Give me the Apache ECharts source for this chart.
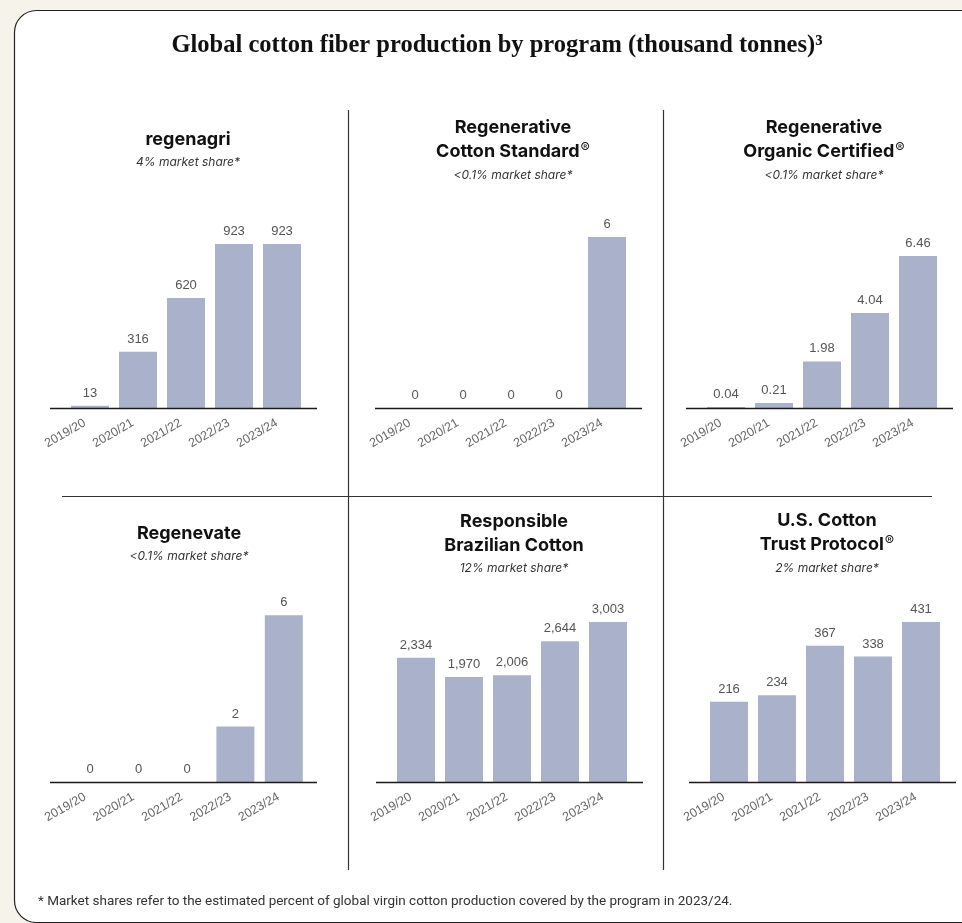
<!DOCTYPE html>
<html>
<head>
<meta charset="utf-8">
<script src="https://cdn.jsdelivr.net/npm/echarts@6/dist/echarts.min.js"></script>
<style>
html,body{margin:0;padding:0;background:#f5f3ea;}
#chart{width:962px;height:923px;}
</style>
</head>
<body>
<div id="chart"></div>
<script>
// ---- data ----
const categories = ['2019/20', '2020/21', '2021/22', '2022/23', '2023/24'];
const regenagri = [13, 316, 620, 923, 923];
const regenerativeCottonStandard = [0, 0, 0, 0, 6];
const regenerativeOrganicCertified = [0.04, 0.21, 1.98, 4.04, 6.46];
const regenevate = [0, 0, 0, 2, 6];
const responsibleBrazilianCotton = [2334, 1970, 2006, 2644, 3003];
const usCottonTrustProtocol = [216, 234, 367, 338, 431];
const panelNames = ['regenagri', 'Regenerative\nCotton Standard®', 'Regenerative\nOrganic Certified®', 'Regenevate', 'Responsible\nBrazilian Cotton', 'U.S. Cotton\nTrust Protocol®'];
const marketShares = ['4% market share*', '<0.1% market share*', '<0.1% market share*', '<0.1% market share*', '12% market share*', '2% market share*'];
const mainTitle = 'Global cotton fiber production by program (thousand tonnes)³';
const footnote = '* Market shares refer to the estimated percent of global virgin cotton production covered by the program in 2023/24.';

// ---- layout ----
const seriesData = [regenagri, regenerativeCottonStandard, regenerativeOrganicCertified, regenevate, responsibleBrazilianCotton, usCottonTrustProtocol];
const yMax = [1126, 7.02, 8.5, 7.2, 3754, 539];
const gridLeft = [66, 391, 702, 66, 392, 705];
const gridW = [240, 240, 240, 242, 240, 240];
const gridH = 200;
const baseY = [408, 408, 408, 782, 782, 782];
const titleTop = [128, 116, 116, 522, 510, 509];

const barColor = '#aab1cb';

const chart = echarts.init(document.getElementById('chart'), null, {renderer: 'canvas'});

function richName(name) {
  return name.split('\n').map(l => {
    if (l.indexOf('®') >= 0) {
      const parts = l.split('®');
      return '{b|' + parts[0] + '}{r|®}';
    }
    return '{b|' + l + '}';
  }).join('\n');
}

const grids = [], xAxes = [], yAxes = [], series = [], titles = [], graphics = [];

titles.push({
  text: mainTitle,
  left: 497,
  textAlign: 'center',
  top: 33,
  padding: 0,
  textStyle: {fontFamily: 'Liberation Serif', fontWeight: 'bold', fontSize: 24.5, color: '#111'}
});
titles.push({
  text: footnote,
  left: 38,
  top: 895,
  padding: 0,
  textStyle: {fontFamily: 'Roboto', fontWeight: 'normal', fontSize: 13.5, color: '#333'}
});

// card
graphics.push({
  type: 'rect', z: -10, silent: true,
  shape: {x: 14.5, y: 10.5, width: 1000, height: 912, r: 22},
  style: {fill: '#ffffff', stroke: '#222', lineWidth: 1.2}
});
// separators
graphics.push({type: 'line', silent: true, shape: {x1: 348.5, y1: 110, x2: 348.5, y2: 870}, style: {stroke: '#333', lineWidth: 1.2}});
graphics.push({type: 'line', silent: true, shape: {x1: 663.5, y1: 110, x2: 663.5, y2: 870}, style: {stroke: '#333', lineWidth: 1.2}});
graphics.push({type: 'line', silent: true, shape: {x1: 62, y1: 496.5, x2: 932, y2: 496.5}, style: {stroke: '#333', lineWidth: 1.2}});

for (let i = 0; i < 6; i++) {
  grids.push({left: gridLeft[i], top: baseY[i] - gridH, width: gridW[i], height: gridH, containLabel: false});
  xAxes.push({
    type: 'category', gridIndex: i, data: categories,
    axisLine: {show: false}, axisTick: {show: false},
    axisLabel: {rotate: 30, fontSize: 12.5, color: '#666', margin: 11, padding: [0, 6, 0, 0], fontFamily: 'Liberation Sans', interval: 0}
  });
  yAxes.push({type: 'value', gridIndex: i, min: 0, max: yMax[i], show: false, splitLine: {show: false}});
  series.push({
    type: 'bar', xAxisIndex: i, yAxisIndex: i, data: seriesData[i], barWidth: 38,
    itemStyle: {color: barColor},
    label: {
      show: true, position: 'top', distance: 6, fontSize: 13, color: '#555', fontFamily: 'Liberation Sans',
      formatter: p => (p.value >= 1000 ? p.value.toLocaleString('en-US') : String(p.value))
    },
    silent: true
  });
  titles.push({
    text: richName(panelNames[i]),
    subtext: marketShares[i],
    left: gridLeft[i] + gridW[i] / 2 + 2,
    textAlign: 'center',
    top: titleTop[i],
    itemGap: 9,
    padding: 0,
    textStyle: {
      rich: {
        b: {fontFamily: 'Inter', fontWeight: 'bold', fontSize: 18, color: '#111', lineHeight: 24},
        r: {fontFamily: 'Inter', fontWeight: 'normal', fontSize: 14, color: '#111', lineHeight: 24, padding: [0, 0, 6, 1]}
      }
    },
    subtextStyle: {fontFamily: 'Inter', fontStyle: 'italic', fontSize: 12, color: '#333', lineHeight: 14}
  });
  // extended baseline
  graphics.push({
    type: 'line', silent: true, z: 50,
    shape: {x1: gridLeft[i] - 16, y1: baseY[i] + 0.5, x2: gridLeft[i] + 251, y2: baseY[i] + 0.5},
    style: {stroke: '#1a1a1a', lineWidth: 1.6}
  });
}

chart.setOption({
  backgroundColor: '#f5f3ea',
  animation: false,
  title: titles,
  grid: grids,
  xAxis: xAxes,
  yAxis: yAxes,
  series: series,
  graphic: {elements: graphics}
});
</script>
</body>
</html>
